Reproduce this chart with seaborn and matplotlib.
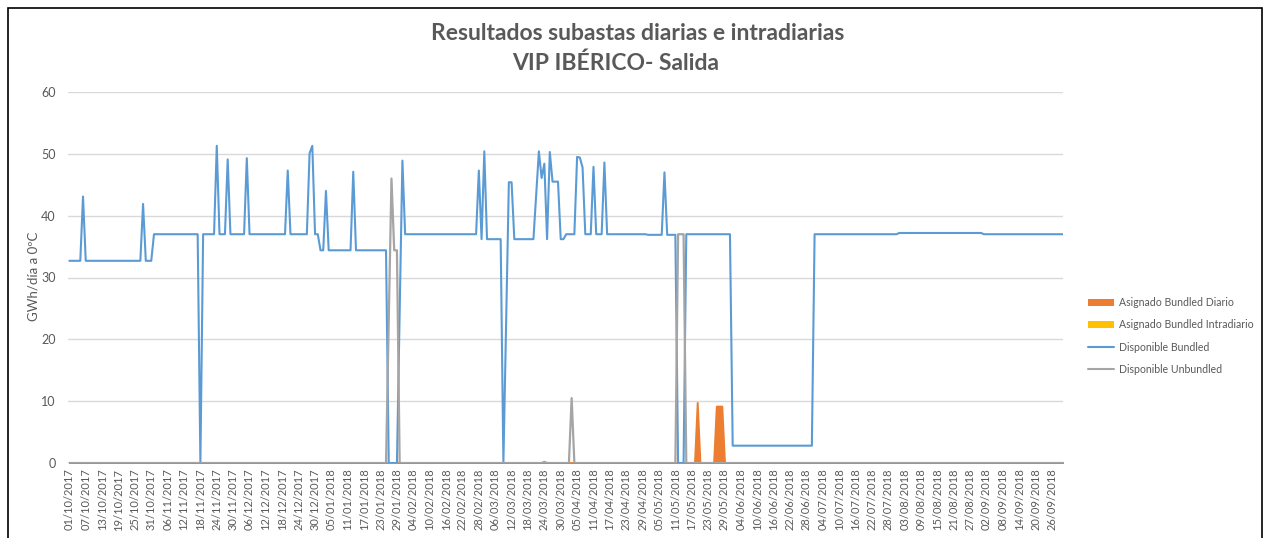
import matplotlib
matplotlib.use("Agg")
import matplotlib.pyplot as plt
from matplotlib.lines import Line2D
from matplotlib.patches import Patch, Rectangle
import seaborn as sns
import numpy as np
import pandas as pd

# breakpoints of each series (line is straight between consecutive points)
bundled_dates = [
    "01/10/2017", "05/10/2017", "06/10/2017", "07/10/2017", "27/10/2017", "28/10/2017",
    "29/10/2017", "31/10/2017", "01/11/2017", "17/11/2017", "18/11/2017", "19/11/2017",
    "23/11/2017", "24/11/2017", "25/11/2017", "27/11/2017", "28/11/2017", "29/11/2017",
    "04/12/2017", "05/12/2017", "06/12/2017", "19/12/2017", "20/12/2017", "21/12/2017",
    "27/12/2017", "28/12/2017", "29/12/2017", "30/12/2017", "31/12/2017", "01/01/2018",
    "02/01/2018", "03/01/2018", "04/01/2018", "12/01/2018", "13/01/2018", "14/01/2018",
    "25/01/2018", "26/01/2018", "29/01/2018", "31/01/2018", "01/02/2018", "27/02/2018",
    "28/02/2018", "01/03/2018", "02/03/2018", "03/03/2018", "08/03/2018", "09/03/2018",
    "11/03/2018", "12/03/2018", "13/03/2018", "20/03/2018", "22/03/2018", "23/03/2018",
    "24/03/2018", "25/03/2018", "26/03/2018", "27/03/2018", "29/03/2018", "30/03/2018",
    "31/03/2018", "01/04/2018", "04/04/2018", "05/04/2018", "06/04/2018", "07/04/2018",
    "08/04/2018", "10/04/2018", "11/04/2018", "12/04/2018", "14/04/2018", "15/04/2018",
    "16/04/2018", "30/04/2018", "01/05/2018", "06/05/2018", "07/05/2018", "08/05/2018",
    "11/05/2018", "12/05/2018", "14/05/2018", "15/05/2018", "31/05/2018", "01/06/2018",
    "30/06/2018", "01/07/2018", "31/07/2018", "01/08/2018", "31/08/2018", "01/09/2018",
    "30/09/2018",
]
bundled_values = [
    32.7, 32.7, 43.1, 32.7, 32.7, 41.9,
    32.7, 32.7, 37.0, 37.0, 0.0, 37.0,
    37.0, 51.3, 37.0, 37.0, 49.1, 37.0,
    37.0, 49.3, 37.0, 37.0, 47.3, 37.0,
    37.0, 50.1, 51.3, 37.0, 37.0, 34.4,
    34.4, 44.0, 34.4, 34.4, 47.1, 34.4,
    34.4, 0.0, 0.0, 48.9, 37.0, 37.0,
    47.3, 36.2, 50.4, 36.2, 36.2, 0.0,
    45.4, 45.4, 36.2, 36.2, 50.4, 46.1,
    48.4, 36.2, 50.3, 45.5, 45.5, 36.2,
    36.2, 37.0, 37.0, 49.5, 49.4, 47.8,
    37.0, 37.0, 47.9, 37.0, 37.0, 48.6,
    37.0, 37.0, 36.9, 36.9, 47.0, 36.9,
    36.9, 0.0, 0.0, 37.0, 37.0, 2.8,
    2.8, 37.0, 37.0, 37.2, 37.2, 37.0,
    37.0,
]

unbundled_dates = [
    "01/10/2017", "25/01/2018", "27/01/2018", "28/01/2018", "29/01/2018", "30/01/2018",
    "23/03/2018", "24/03/2018", "25/03/2018", "02/04/2018", "03/04/2018", "04/04/2018",
    "11/05/2018", "12/05/2018", "14/05/2018", "15/05/2018", "30/09/2018",
]
unbundled_values = [
    0.0, 0.0, 46.0, 34.4, 34.4, 0.0,
    0.0, 0.2, 0.0, 0.0, 10.5, 0.0,
    0.0, 37.0, 37.0, 0.0, 0.0,
]

diario_dates = [
    "01/10/2017", "18/05/2018", "19/05/2018", "20/05/2018", "25/05/2018",
    "26/05/2018", "28/05/2018", "29/05/2018", "30/09/2018",
]
diario_values = [0.0, 0.0, 9.8, 0.0, 0.0, 9.2, 9.2, 0.0, 0.0]

intradiario_dates = ["01/10/2017", "30/09/2018"]
intradiario_values = [0.0, 0.0]

series_names = [
    "Asignado Bundled Diario",
    "Asignado Bundled Intradiario",
    "Disponible Bundled",
    "Disponible Unbundled",
]

c_diario = "#ED7D31"
c_intra = "#FFC000"
c_bundled = "#5B9BD5"
c_unbundled = "#A5A5A5"
c_text = "#595959"


def to_frame(dates, values):
    return pd.DataFrame(
        {"fecha": pd.to_datetime(dates, format="%d/%m/%Y"), "valor": values}
    )


df_bundled = to_frame(bundled_dates, bundled_values)
df_unbundled = to_frame(unbundled_dates, unbundled_values)
df_diario = to_frame(diario_dates, diario_values)
df_intra = to_frame(intradiario_dates, intradiario_values)

sns.set_style("white")
plt.rcParams["font.family"] = ["Lato", "DejaVu Sans"]

fig = plt.figure(figsize=(12.7, 5.38), dpi=100)
ax = fig.add_axes([68 / 1270, 1 - 463 / 538, (1063 - 68) / 1270, (463 - 92) / 538])

# areas first, then lines (Excel order)
ax.fill_between(df_diario["fecha"], df_diario["valor"], color=c_diario,
                edgecolor=c_diario, lw=1.4, zorder=2)
ax.fill_between(df_intra["fecha"], df_intra["valor"], color=c_intra, lw=0, zorder=2)
sns.lineplot(data=df_bundled, x="fecha", y="valor", ax=ax, color=c_bundled,
             linewidth=1.5, zorder=3)
sns.lineplot(data=df_unbundled, x="fecha", y="valor", ax=ax, color=c_unbundled,
             linewidth=1.6, zorder=4)

start = pd.Timestamp("2017-10-01")
end = pd.Timestamp("2018-09-30")
ax.set_xlim(start - pd.Timedelta(hours=12), end)
ax.set_ylim(0, 60)

ticks = pd.date_range(start, pd.Timestamp("2018-09-26"), freq="6D")
ax.set_xticks(ticks)
ax.set_xticklabels([t.strftime("%d/%m/%Y") for t in ticks], rotation=90,
                   fontsize=8, color=c_text)
ax.set_yticks(range(0, 61, 10))
ax.set_yticklabels([str(v) for v in range(0, 61, 10)], fontsize=9, color=c_text)
ax.tick_params(axis="both", length=0)
ax.tick_params(axis="y", pad=9)
ax.tick_params(axis="x", pad=4)

ax.grid(axis="y", color="#D9D9D9", linewidth=1)
ax.grid(axis="x", visible=False)
for s in ax.spines.values():
    s.set_visible(False)
ax.set_xlabel("")
ax.set_ylabel("")

fig.text(33 / 1270, 1 - 276 / 538, "GWh/día a 0ºC", rotation=90, ha="center",
         va="center", fontsize=9.5, color=c_text)

fig.text(638 / 1270, 1 - 33 / 538, "Resultados subastas diarias e intradiarias",
         ha="center", va="center", fontsize=16.5, fontweight="bold", color=c_text)
fig.text(616 / 1270, 1 - 63 / 538, "VIP IBÉRICO- Salida",
         ha="center", va="center", fontsize=16.5, fontweight="bold", color=c_text)

handles = [
    Patch(facecolor=c_diario, edgecolor="none"),
    Patch(facecolor=c_intra, edgecolor="none"),
    Line2D([0], [0], color=c_bundled, linewidth=1.5),
    Line2D([0], [0], color=c_unbundled, linewidth=1.5),
]
leg = fig.legend(handles, series_names, loc="center left",
                 bbox_to_anchor=(1083 / 1270, 1 - 336 / 538), frameon=False,
                 fontsize=7.6, labelspacing=1.05, handlelength=2.4,
                 handleheight=0.6, handletextpad=0.5, borderpad=0)
for t in leg.get_texts():
    t.set_color(c_text)

fig.patches.append(Rectangle((8 / 1270, -0.05), (1262 - 8) / 1270, 1.05 - 8 / 538,
                             transform=fig.transFigure, fill=False,
                             edgecolor="black", linewidth=1.2))

fig.savefig("out.png", dpi=100)
